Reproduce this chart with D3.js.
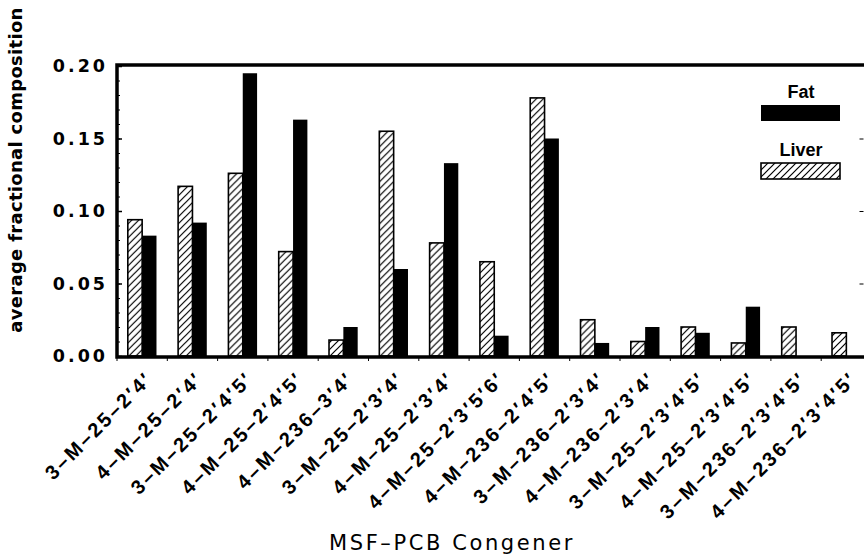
<!DOCTYPE html>
<html>
<head>
<meta charset="utf-8">
<script src="https://cdn.jsdelivr.net/npm/d3@7"></script>
<style>
  html, body { margin: 0; padding: 0; background: #fff; }
  svg { display: block; }
</style>
</head>
<body>
<div id="svg-container"></div>
<script>
const congeners = [
  '3–M–25–2′4′', '4–M–25–2′4′', '3–M–25–2′4′5′', '4–M–25–2′4′5′',
  '4–M–236–3′4′', '3–M–25–2′3′4′', '4–M–25–2′3′4′', '4–M–25–2′3′5′6′',
  '4–M–236–2′4′5′', '3–M–236–2′3′4′', '4–M–236–2′3′4′', '3–M–25–2′3′4′5′',
  '4–M–25–2′3′4′5′', '3–M–236–2′3′4′5′', '4–M–236–2′3′4′5′'
];
const liverValues = [0.094, 0.117, 0.126, 0.072, 0.011, 0.155, 0.078, 0.065,
  0.178, 0.025, 0.010, 0.020, 0.009, 0.020, 0.016];
const fatValues = [0.083, 0.092, 0.195, 0.163, 0.020, 0.060, 0.133, 0.014,
  0.150, 0.009, 0.020, 0.016, 0.034, 0, 0];
const seriesNames = ['Liver', 'Fat'];
const legendNames = ['Fat', 'Liver'];
const yTicks = [0, 0.05, 0.1, 0.15, 0.2];

const WIDTH = 864;
const HEIGHT = 557;
const LEFT = 117;
const RIGHT = 871.5;
const TOP = 66;
const BOTTOM = 356;

const svg = d3.create('svg').attr('width', WIDTH).attr('height', HEIGHT);

// diagonal hatch for liver bars
svg
  .append('defs')
  .append('pattern')
  .attr('id', 'hatch')
  .attr('patternUnits', 'userSpaceOnUse')
  .attr('width', 7)
  .attr('height', 7)
  .append('path')
  .attr('d', 'M-1,1 l2,-2 M0,7 l7,-7 M6,8 l2,-2')
  .attr('stroke', '#000')
  .attr('stroke-width', 1.2);

const xScale = d3
  .scaleBand()
  .domain(congeners)
  .range([LEFT, RIGHT])
  .paddingInner(0.43)
  .paddingOuter(0.215);
const subScale = d3
  .scaleBand()
  .domain(seriesNames)
  .range([0, xScale.bandwidth()]);
const yScale = d3.scaleLinear().domain([0, 0.2]).range([BOTTOM, TOP]);

const rows = congeners.map((name, i) => ({
  name,
  Liver: liverValues[i],
  Fat: fatValues[i],
}));

const groups = svg
  .selectAll('g.group')
  .data(rows)
  .join('g')
  .attr('class', 'group')
  .attr('transform', (d) => `translate(${xScale(d.name)},0)`);

groups
  .selectAll('rect')
  .data((d) => seriesNames.map((key) => ({ key, value: d[key] })).filter((d) => d.value > 0))
  .join('rect')
  .attr('x', (d) => subScale(d.key))
  .attr('y', (d) => yScale(d.value))
  .attr('width', subScale.bandwidth())
  .attr('height', (d) => BOTTOM - yScale(d.value))
  .attr('fill', (d) => (d.key === 'Fat' ? '#000' : 'url(#hatch)'))
  .attr('stroke', '#000')
  .attr('stroke-width', (d) => (d.key === 'Fat' ? 0 : 1.6));

// left axis, ticks pointing into the plot
svg
  .append('g')
  .attr('id', 'y-axis-minor')
  .attr('transform', `translate(${LEFT},0)`)
  .call(d3.axisRight(yScale).ticks(20).tickSize(3).tickFormat(''))
  .call((g) => g.select('.domain').remove());
svg
  .append('g')
  .attr('id', 'y-axis')
  .attr('transform', `translate(${LEFT},0)`)
  .call(d3.axisRight(yScale).tickValues(yTicks).tickSize(5).tickFormat(''))
  .call((g) => g.select('.domain').remove())
  .selectAll('line')
  .attr('stroke-width', 1.5);

svg
  .append('g')
  .attr('id', 'y-labels')
  .selectAll('text')
  .data(yTicks)
  .join('text')
  .attr('x', LEFT - 9)
  .attr('y', (d) => yScale(d))
  .attr('dy', '0.36em')
  .attr('text-anchor', 'end')
  .attr('font-family', 'DejaVu Sans')
  .attr('font-weight', 'bold')
  .attr('font-size', 17.5)
  .attr('letter-spacing', 3)
  .text(d3.format('.2f'));

// right-side ticks (axis line itself is off the page)
svg
  .append('g')
  .attr('transform', `translate(${RIGHT - 8},0)`)
  .call(d3.axisLeft(yScale).tickValues([0.05, 0.1, 0.15]).tickSize(4).tickFormat(''))
  .call((g) => g.select('.domain').remove());

// small ticks between groups under the bottom axis
svg
  .append('g')
  .attr('id', 'x-axis')
  .selectAll('line')
  .data(congeners)
  .join('line')
  .attr('x1', (d) => xScale(d) - xScale.step() * 0.215)
  .attr('x2', (d) => xScale(d) - xScale.step() * 0.215)
  .attr('y1', BOTTOM + 2)
  .attr('y2', BOTTOM + 5)
  .attr('stroke', '#000')
  .attr('stroke-width', 1);

// frame
svg
  .append('path')
  .attr('d', `M${RIGHT},${TOP - 1} H${LEFT} V${BOTTOM + 1} H${RIGHT}`)
  .attr('fill', 'none')
  .attr('stroke', '#000')
  .attr('stroke-width', 3.5);

// category labels, rotated
svg
  .append('g')
  .attr('id', 'x-labels')
  .selectAll('text')
  .data(congeners)
  .join('text')
  .attr('transform', (d) => `translate(${xScale(d) + xScale.bandwidth() / 2 + 12},${BOTTOM + 24}) rotate(-45)`)
  .attr('text-anchor', 'end')
  .attr('font-family', 'Liberation Sans')
  .attr('font-weight', 'bold')
  .attr('font-size', 20)
  .attr('letter-spacing', 2.5)
  .text((d) => d);

// legend
const legend = svg.append('g').attr('id', 'legend');
legendNames.forEach((name, i) => {
  const top = 105 + i * 58;
  legend
    .append('text')
    .attr('x', 801)
    .attr('y', top - 7)
    .attr('text-anchor', 'middle')
    .attr('font-family', 'Liberation Sans')
    .attr('font-weight', 'bold')
    .attr('font-size', 18)
    .text(name);
  legend
    .append('rect')
    .attr('x', 761)
    .attr('y', top)
    .attr('width', 79)
    .attr('height', 16)
    .attr('fill', name === 'Fat' ? '#000' : 'url(#hatch)')
    .attr('stroke', '#000')
    .attr('stroke-width', name === 'Fat' ? 0 : 1.6);
});

// axis titles
svg
  .append('text')
  .attr('transform', 'translate(22,170) rotate(-90)')
  .attr('text-anchor', 'middle')
  .attr('font-family', 'DejaVu Sans')
  .attr('font-weight', 'bold')
  .attr('font-size', 18)
  .attr('letter-spacing', 0.3)
  .text('average fractional composition');

svg
  .append('text')
  .attr('x', 452)
  .attr('y', 550)
  .attr('text-anchor', 'middle')
  .attr('font-family', 'DejaVu Sans')
  .attr('font-size', 21)
  .attr('letter-spacing', 2.6)
  .text('MSF–PCB Congener');

document.getElementById('svg-container').appendChild(svg.node());
</script>
</body>
</html>
